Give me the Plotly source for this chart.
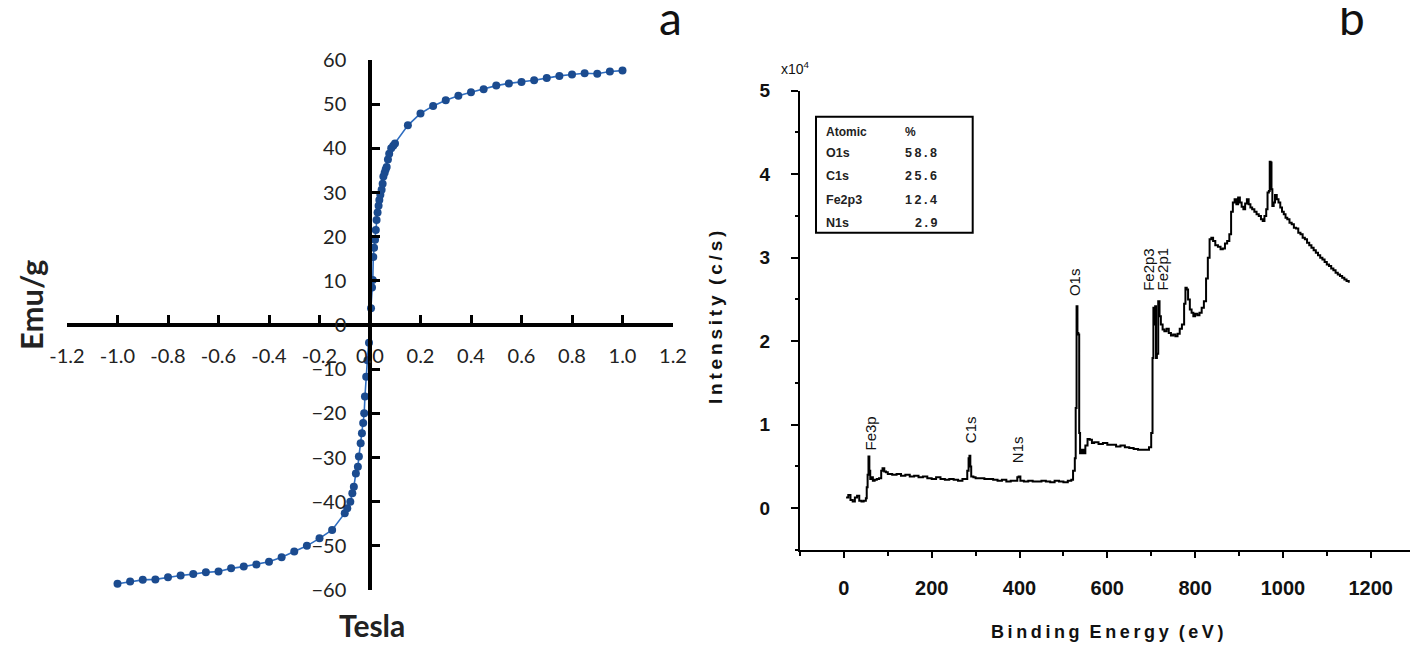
import plotly.graph_objects as go

# ---------------- Panel a: magnetization loop ----------------
tesla_neg = [-1.00, -0.95, -0.90, -0.85, -0.80, -0.75, -0.70, -0.65, -0.60, -0.55,
             -0.50, -0.45, -0.40, -0.35, -0.30, -0.25, -0.20, -0.15, -0.10, -0.090,
             -0.078, -0.070, -0.064, -0.056, -0.048, -0.044, -0.037, -0.032, -0.027,
             -0.023, -0.020, -0.015, -0.010, -0.004]
emu_neg = [-58.6, -58.1, -57.7, -57.6, -57.1, -56.7, -56.4, -56.0, -55.8, -55.1,
           -54.7, -54.2, -53.6, -52.6, -51.3, -50.0, -48.3, -46.4, -42.6, -41.5,
           -40.0, -38.1, -36.6, -33.6, -32.1, -29.8, -26.8, -24.5, -22.2,
           -20.0, -16.2, -11.7, -8.0, -4.0]
tesla_pos = [0.004, 0.008, 0.011, 0.013, 0.016, 0.020, 0.023, 0.026, 0.030, 0.034,
             0.037, 0.041, 0.046, 0.050, 0.053, 0.058, 0.062, 0.066, 0.071, 0.076,
             0.084, 0.092, 0.099, 0.15, 0.20, 0.25, 0.30, 0.35, 0.40, 0.45, 0.50,
             0.55, 0.60, 0.65, 0.70, 0.75, 0.80, 0.85, 0.90, 0.95, 1.00]
emu_pos = [3.8, 8.5, 10.2, 15.4, 17.5, 19.3, 21.5, 23.8, 25.5, 27.0,
           28.3, 29.5, 30.6, 32.0, 33.6, 34.5, 35.2, 35.8, 37.5, 38.8,
           40.0, 40.6, 41.1, 45.2, 47.9, 49.6, 50.9, 51.9, 52.7, 53.4, 54.2,
           54.7, 55.0, 55.4, 55.9, 56.4, 56.7, 57.0, 56.9, 57.4, 57.6]
tesla_ticks = [-1.2, -1.0, -0.8, -0.6, -0.4, -0.2, 0.0, 0.2, 0.4, 0.6, 0.8, 1.0, 1.2]
emu_ticks = [-60, -50, -40, -30, -20, -10, 0, 10, 20, 30, 40, 50, 60]

# ---------------- Panel b: XPS survey ----------------
energy = [5, 10, 15, 20, 25, 30, 35, 40, 45, 50, 52, 54, 56, 58, 60, 63, 66, 70, 75, 80,
          85, 88, 92, 96, 100, 110, 120, 130, 140, 150, 160, 170, 180, 190, 200, 210, 220,
          230, 240, 250, 260, 270, 278, 281, 284, 286, 288, 290, 295, 300, 310, 320, 330,
          340, 350, 360, 370, 380, 390, 395, 398, 402, 410, 420, 430, 440, 450, 460, 470,
          480, 490, 500, 510, 518, 522, 526, 528, 530, 532, 534, 536, 538, 542, 546, 550,
          555, 560, 565, 570, 580, 590, 600, 610, 620, 630, 640, 650, 660, 670, 680, 690,
          695, 700, 703, 705, 707, 709, 711, 713, 716, 719, 722, 726, 730, 735, 740, 745,
          750, 755, 760, 765, 770, 775, 778, 781, 784, 788, 792, 796, 800, 805, 810, 815,
          820, 825, 829, 833, 837, 841, 846, 852, 858, 863, 868, 873, 878, 882, 886, 890,
          894, 898, 902, 906, 910, 914, 918, 922, 926, 930, 935, 940, 945, 950, 954, 958,
          962, 965, 968, 970, 972, 974, 976, 979, 982, 986, 990, 994, 998, 1002, 1006,
          1010, 1015, 1020, 1025, 1030, 1035, 1040, 1045, 1050, 1055, 1060, 1065, 1070,
          1075, 1080, 1085, 1090, 1095, 1100, 1105, 1110, 1115, 1120, 1125, 1130, 1135,
          1140, 1145, 1150]
intensity = [0.13, 0.16, 0.10, 0.08, 0.13, 0.15, 0.09, 0.08, 0.09, 0.12, 0.25, 0.40, 0.62,
             0.45, 0.35, 0.37, 0.33, 0.34, 0.35, 0.36, 0.45, 0.48, 0.44, 0.43, 0.41, 0.40,
             0.41, 0.39, 0.40, 0.38, 0.39, 0.37, 0.38, 0.36, 0.35, 0.37, 0.35, 0.34, 0.35,
             0.34, 0.33, 0.35, 0.35, 0.45, 0.60, 0.63, 0.50, 0.38, 0.37, 0.36, 0.36, 0.35,
             0.35, 0.34, 0.33, 0.34, 0.32, 0.33, 0.33, 0.37, 0.38, 0.33, 0.32, 0.33, 0.32,
             0.32, 0.33, 0.32, 0.31, 0.33, 0.32, 0.31, 0.33, 0.34, 0.45, 0.60, 1.20, 2.42,
             2.10, 2.08, 0.90, 0.66, 0.70, 0.66, 0.75, 0.83, 0.82, 0.78, 0.79, 0.77, 0.78,
             0.76, 0.76, 0.74, 0.75, 0.73, 0.72, 0.71, 0.70, 0.70, 0.70, 0.73, 0.90, 1.80,
             2.40, 2.20, 2.42, 1.80, 1.85, 2.48, 2.30, 2.20, 2.14, 2.12, 2.15, 2.10, 2.07,
             2.08, 2.06, 2.09, 2.15, 2.20, 2.45, 2.64, 2.62, 2.50, 2.38, 2.34, 2.30, 2.33,
             2.31, 2.34, 2.40, 2.48, 2.75, 3.00, 3.22, 3.24, 3.20, 3.15, 3.13, 3.10, 3.11,
             3.17, 3.20, 3.28, 3.55, 3.66, 3.70, 3.64, 3.72, 3.66, 3.61, 3.58, 3.65, 3.70,
             3.64, 3.60, 3.58, 3.55, 3.52, 3.50, 3.46, 3.44, 3.50, 3.58, 3.78, 3.80, 4.15,
             4.14, 3.82, 3.62, 3.66, 3.75, 3.70, 3.66, 3.60, 3.55, 3.52, 3.48, 3.46, 3.42,
             3.40, 3.36, 3.35, 3.30, 3.28, 3.24, 3.22, 3.18, 3.15, 3.12, 3.09, 3.06, 3.03,
             3.00, 2.98, 2.95, 2.92, 2.90, 2.87, 2.85, 2.82, 2.80, 2.78, 2.76, 2.74, 2.72,
             2.70]
energy_ticks = [0, 200, 400, 600, 800, 1000, 1200]
energy_minor = [-100, 100, 300, 500, 700, 900, 1100, 1300]
intensity_ticks = [0, 1, 2, 3, 4, 5]

peak_names = ["Fe3p", "C1s", "N1s", "O1s", "Fe2p3", "Fe2p1"]
peak_energy = [60, 287, 394, 527, 694, 725]
peak_label_base = [0.67, 0.76, 0.52, 2.52, 2.58, 2.58]

table_elements = ["O1s", "C1s", "Fe2p3", "N1s"]
table_percent = ["58.8", "25.6", "12.4", "2.9"]

# ---------------- Figure ----------------
# page body has an 8px margin: figure sits at (8, 8) in the window
OFF = 8
W, H = 1410, 638
def px(x):
    return (x - OFF) / W
def py(y):
    return 1 - (y - OFF) / H

fig = go.Figure()
fig.add_trace(go.Scatter(x=tesla_neg + tesla_pos, y=emu_neg + emu_pos, mode="lines+markers",
                         line=dict(color="#2E6DC0", width=1.6),
                         marker=dict(color="#1B4B8F", size=8),
                         xaxis="x", yaxis="y", showlegend=False))
fig.add_trace(go.Scatter(x=energy, y=intensity, mode="lines",
                         line=dict(color="black", width=2, shape="hv"),
                         xaxis="x2", yaxis="y2", showlegend=False))

xa_dom = [px(67), px(673)]
ya_dom = [py(590), py(60)]
leftfont = dict(family="Lato, Open Sans, sans-serif", size=20, color="#222")
arial = "Liberation Sans, Arial, sans-serif"

fig.update_layout(
    template="none",
    width=W, height=H, margin=dict(l=0, r=0, t=0, b=0, pad=0), autosize=False,
    paper_bgcolor="white", plot_bgcolor="white",
    xaxis=dict(domain=xa_dom, range=[-1.2, 1.2], anchor="free", automargin=False,
               position=(ya_dom[0] + ya_dom[1]) / 2,
               tickmode="array",
               tickvals=tesla_ticks, ticktext=[f"{v:.1f}" for v in tesla_ticks],
               ticks="inside", ticklen=8, tickwidth=3, tickcolor="black",
               showline=True, linewidth=3.5, linecolor="black",
               showgrid=False, zeroline=False, tickfont=leftfont,
               ticklabelstandoff=12),
    yaxis=dict(domain=ya_dom, range=[-60, 60], anchor="free", automargin=False,
               position=(xa_dom[0] + xa_dom[1]) / 2,
               tickmode="array",
               tickvals=emu_ticks, ticks="inside", ticklen=8, tickwidth=3,
               tickcolor="black", showline=True, linewidth=3.5, linecolor="black",
               showgrid=False, zeroline=False, tickfont=leftfont,
               ticklabelstandoff=18),
    xaxis2=dict(domain=[px(800), px(1414.6)], range=[-100, 1300], anchor="y2",
                automargin=False, tickmode="array",
                tickvals=energy_ticks, ticks="outside", ticklen=6, tickwidth=2,
                tickcolor="black", showline=True, linewidth=2, linecolor="black",
                minor=dict(tickmode="array", tickvals=energy_minor, ticks="outside",
                           ticklen=4, tickwidth=2, tickcolor="black", showgrid=False),
                showgrid=False, zeroline=False,
                tickfont=dict(family=arial, size=20, color="#111", weight="bold"),
                ticklabelstandoff=13),
    yaxis2=dict(domain=[py(550), py(90.7)], range=[-0.5, 5], anchor="x2",
                automargin=False, tickmode="array",
                tickvals=intensity_ticks, ticks="outside", ticklen=7, tickwidth=2,
                tickcolor="black", showline=True, linewidth=2, linecolor="black",
                minor=dict(dtick=0.5, tick0=0, ticks="outside", ticklen=3,
                           tickwidth=2, tickcolor="black", showgrid=False),
                showgrid=False, zeroline=False,
                tickfont=dict(family=arial, size=19, color="#111", weight="bold"),
                ticklabelstandoff=17),
)

ann = []
def add(x, y, text, size, family=arial, angle=0, xanchor="center", yanchor="middle",
        xref="paper", yref="paper", color="#111"):
    ann.append(dict(x=x, y=y, xref=xref, yref=yref, text=text, textangle=angle,
                    xanchor=xanchor, yanchor=yanchor, showarrow=False,
                    font=dict(family=family, size=size, color=color)))

lato = "Lato, Open Sans, sans-serif"
thin = "\u2009"
add(px(31), py(305), "<b>Emu/g</b>", 31, lato, angle=-90, color="#222")
add(px(372), py(645), "<b>Tesla</b>", 30, lato, yanchor="bottom", color="#222")
add(px(670), py(18), "a", 46, lato)
add(px(1352), py(18), "b", 46, lato)
add(px(715), py(318), "<b>" + thin.join("Intensity") + "  " + thin.join("(c/s)") + "</b>",
    19, arial, angle=-90)
add(px(1107), py(632), "<b>" + thin.join("Binding") + "  " + thin.join("Energy") + "  " +
    thin.join("(eV)") + "</b>", 18, arial)
add(px(795), py(68), "x10<sup>4</sup>", 14, arial)

for name, e, b in zip(peak_names, peak_energy, peak_label_base):
    add(e, b, name, 15, arial, angle=-90, yanchor="bottom", xref="x2", yref="y2")

# inset table
row_y = [131.7, 153.3, 176, 200, 222.7]
add(px(824), py(row_y[0]), "<b>Atomic</b>", 12, arial, xanchor="left", color="#222")
add(px(903), py(row_y[0]), "<b>%</b>", 12, arial, xanchor="left", color="#222")
for i, (el, pc) in enumerate(zip(table_elements, table_percent)):
    add(px(824), py(row_y[i + 1]), f"<b>{el}</b>", 12.5, arial, xanchor="left", color="#222")
    add(px(939), py(row_y[i + 1]), "<b>" + thin.join(pc) + "</b>", 12.5, arial,
        xanchor="right", color="#222")
fig.update_layout(annotations=ann)
fig.add_shape(type="rect", xref="paper", yref="paper", x0=px(816), x1=px(972.7),
              y0=py(232.7), y1=py(116.7), line=dict(color="black", width=2))

fig.write_html("out.html")
